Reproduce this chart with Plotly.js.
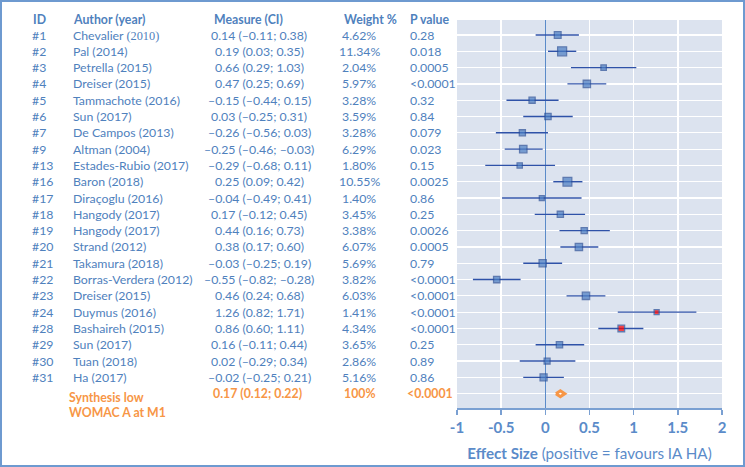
<!DOCTYPE html>
<html><head><meta charset="utf-8">
<script src="https://cdn.plot.ly/plotly-3.0.1.min.js"></script>
<style>html,body{margin:0;padding:0;background:#fff}#wrap{position:relative;width:745px;height:467px}#chart{width:745px;height:467px}#frame{position:absolute;left:0;top:0;width:745px;height:467px;box-sizing:border-box;border:2px solid #6e9ad0;pointer-events:none}</style>
</head><body><div id="wrap"><div id="chart"></div><div id="frame"></div></div>
<script>
const ids = ["#1","#2","#3","#4","#5","#6","#7","#9","#13","#16","#17","#18","#19","#20","#21","#22","#23","#24","#28","#29","#30","#31"];
const authors = ["Chevalier <span style=\"font-family:'Liberation Serif'\">(2010)</span>","Pal (2014)","Petrella (2015)","Dreiser (2015)","Tammachote (2016)","Sun (2017)","De Campos (2013)","Altman (2004)","Estades-Rubio (2017)","Baron (2018)","Diraçoglu (2016)","Hangody (2017)","Hangody (2017)","Strand (2012)","Takamura (2018)","Borras-Verdera (2012)","Dreiser (2015)","Duymus (2016)","Bashaireh (2015)","Sun (2017)","Tuan (2018)","Ha (2017)"];
const es = [0.14,0.19,0.66,0.47,-0.15,0.03,-0.26,-0.25,-0.29,0.25,-0.04,0.17,0.44,0.38,-0.03,-0.55,0.46,1.26,0.86,0.16,0.02,-0.02];
const lo = [-0.11,0.03,0.29,0.25,-0.44,-0.25,-0.56,-0.46,-0.68,0.09,-0.49,-0.12,0.16,0.17,-0.25,-0.82,0.24,0.82,0.60,-0.11,-0.29,-0.25];
const hi = [0.38,0.35,1.03,0.69,0.15,0.31,0.03,-0.03,0.11,0.42,0.41,0.45,0.73,0.60,0.19,-0.28,0.68,1.71,1.11,0.44,0.34,0.21];
const weights = [4.62,11.34,2.04,5.97,3.28,3.59,3.28,6.29,1.80,10.55,1.40,3.45,3.38,6.07,5.69,3.82,6.03,1.41,4.34,3.65,2.86,5.16];
const pvals = ["0.28","0.018","0.0005","<0.0001","0.32","0.84","0.079","0.023","0.15","0.0025","0.86","0.25","0.0026","0.0005","0.79","<0.0001","<0.0001","<0.0001","<0.0001","0.25","0.89","0.86"];
const highlightIds = ["#24","#28"];
const synthLabel = ["Synthesis low","WOMAC A at M1"];
const synthEs = 0.17, synthLo = 0.12, synthHi = 0.22;
const synthWeight = "100%", synthP = "<0.0001";
const headers = ["ID","Author (year)","Measure (CI)","Weight %","P value"];
const xTicks = [-1,-0.5,0,0.5,1,1.5,2];

const BLUE = "#4f81bd", ORANGE = "#f79646", FONT = "Lato, 'Open Sans', sans-serif";
const rows = ids.map((_, i) => i + 1);
const synthRow = ids.length + 1;
const fmt = v => v.toFixed(2).replace("-", "\u2013");
const L = 457, W = 265, T = 20, H = 388;
const px = p => (p - L) / W;
const py = p => (T + H - p) / H;

const ann = [];
function add(text, xpx, y, anchor, opts) {
  opts = opts || {};
  ann.push({text: text, x: px(xpx), xref: "paper", y: opts.paperY !== undefined ? py(opts.paperY) : y,
    yref: opts.paperY !== undefined ? "paper" : "y", xanchor: anchor, yanchor: "middle",
    showarrow: false, font: {family: FONT, size: opts.size || 12.3, color: opts.color || BLUE}});
}
const hx = [31, 71, 211.7, 341.7, 407.7];
headers.forEach((h, i) => add("<b>" + h + "</b>", hx[i], 0, "left", {paperY: 19.5}));
rows.forEach((r, i) => {
  add(ids[i], 30, r, "left");
  add(authors[i], 71, r, "left");
  add(fmt(es[i]) + " (" + fmt(lo[i]) + "; " + fmt(hi[i]) + ")", 259, r, "center");
  add(weights[i].toFixed(2) + "%", 359, r, "center");
  add(pvals[i], 407.5, r, "left");
});
add("<b>" + synthLabel[0] + "</b>", 67, 0, "left", {color: ORANGE, paperY: 397});
add("<b>" + synthLabel[1] + "</b>", 67, 0, "left", {color: ORANGE, paperY: 412});
add("<b>" + fmt(synthEs) + " (" + fmt(synthLo) + "; " + fmt(synthHi) + ")</b>", 211, synthRow, "left", {color: ORANGE});
add("<b>" + synthWeight + "</b>", 342, synthRow, "left", {color: ORANGE});
add("<b>" + synthP + "</b>", 405, synthRow, "left", {color: ORANGE});

const sizes = weights.map(w => 2.8 + 1.83 * Math.sqrt(w));
const fills = ids.map(id => highlightIds.includes(id) ? "#ff0000" : "#4a7ec4");

const traces = [
  {type: "scatter", mode: "markers", x: es, y: rows,
   error_x: {type: "data", symmetric: false, array: hi.map((h, i) => h - es[i]), arrayminus: lo.map((l, i) => es[i] - l),
     color: "#2f52a8", thickness: 1.4, width: 0},
   marker: {symbol: "square", size: sizes, color: fills, line: {color: "#2a4f96", width: 1.3}},
   hoverinfo: "skip", cliponaxis: false},
  {type: "scatter", mode: "lines", x: [synthLo, synthEs, synthHi, synthEs, synthLo], y: [synthRow, synthRow - 0.18, synthRow, synthRow + 0.18, synthRow],
   fill: "toself", fillcolor: "#ffffff", line: {color: ORANGE, width: 3}, hoverinfo: "skip"}
];

const layout = {
  width: 745, height: 467, showlegend: false,
  paper_bgcolor: "#ffffff", plot_bgcolor: "#dce3ef",
  margin: {l: L, r: 745 - L - W, t: T, b: 467 - T - H},
  xaxis: {range: [-1, 2], tickvals: xTicks, ticktext: xTicks.map(String), showgrid: true, gridcolor: "#ffffff", gridwidth: 1.5,
    zeroline: true, zerolinecolor: "#5b8bc9", zerolinewidth: 1.2,
    showline: true, linecolor: "#7aa0d2", linewidth: 1.5, ticks: "outside", ticklen: 5, tickcolor: "#7aa0d2", tickwidth: 1.5,
    tickfont: {family: FONT, size: 15, color: "#5b8bc9", weight: "bold"},
    title: {text: "<b>Effect Size</b> (positive = favours IA HA)", font: {family: FONT, size: 15.2, color: "#5b8bc9"}, standoff: 14}},
  yaxis: {range: [synthRow + 0.88, 0.08], tickvals: rows.concat([synthRow]), showticklabels: false, showgrid: true,
    gridcolor: "#ffffff", gridwidth: 1.2, zeroline: false, showline: false, ticks: ""},
  annotations: ann
};
Plotly.newPlot("chart", traces, layout, {staticPlot: true});
</script></body></html>
